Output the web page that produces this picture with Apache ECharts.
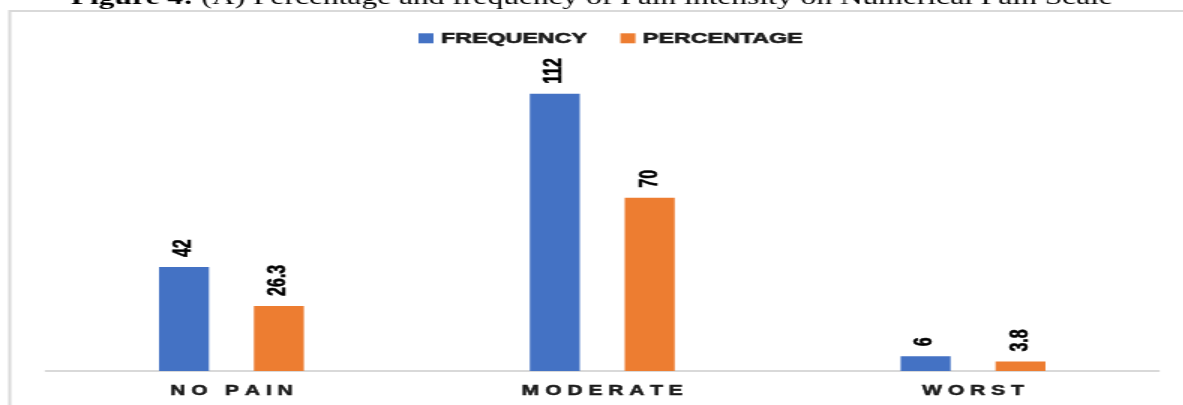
<!DOCTYPE html>
<html>
<head>
<meta charset="utf-8">
<script src="https://cdn.jsdelivr.net/npm/echarts@6/dist/echarts.min.js"></script>
<style>
  html, body { margin: 0; padding: 0; background: #fff; overflow: hidden; }
  #wrap { width: 1183px; height: 405px; overflow: hidden; position: relative; }
  /* the figure is laid out narrow and widened 1.5x, as in the published figure */
  #chart { width: 789px; height: 405px; transform: scaleX(1.5); transform-origin: 0 0; }
</style>
</head>
<body>
<div id="wrap"><div id="chart"></div></div>
<script>
const categories = ['NO PAIN', 'MODERATE', 'WORST'];
const frequency = [42, 112, 6];
const percentage = [26.3, 70, 3.8];
const seriesNames = ['FREQUENCY', 'PERCENTAGE'];
const figureCaption = 'Figure 4:';
const figureTitle = ' (A) Percentage and frequency of Pain intensity on Numerical Pain Scale';

const chart = echarts.init(document.getElementById('chart'), null, { renderer: 'canvas' });

const valueLabel = {
  show: true,
  position: 'top',
  distance: 10,
  rotate: 90,
  align: 'left',
  verticalAlign: 'middle',
  color: '#000',
  fontFamily: 'Liberation Sans',
  fontWeight: 'bold',
  fontSize: 16,
  textBorderColor: '#000',
  textBorderWidth: 0.5
};

chart.setOption({
  backgroundColor: '#fff',
  animation: false,
  title: {
    text: '{b|' + figureCaption + '}{r|' + figureTitle + '}',
    left: 'center',
    top: -17,
    textStyle: {
      rich: {
        b: { fontFamily: 'Liberation Serif', fontWeight: 'bold', fontSize: 21, color: '#000' },
        r: { fontFamily: 'Liberation Serif', fontWeight: 'normal', fontSize: 21, color: '#000' }
      }
    }
  },
  graphic: [{
    type: 'rect',
    silent: true,
    shape: { x: 6.5, y: 11, width: 900, height: 900 },
    style: { fill: 'none', stroke: '#d9d9d9', lineWidth: 2 }
  }],
  legend: {
    data: seriesNames,
    left: 274,
    top: 25,
    itemWidth: 10,
    itemHeight: 10,
    itemGap: 22,
    icon: 'rect',
    textStyle: {
      fontFamily: 'Liberation Sans',
      fontWeight: 'bold',
      fontSize: 15.5,
      color: '#1a1a1a',
      textBorderColor: '#1a1a1a',
      textBorderWidth: 0.6
    }
  },
  grid: { left: 30.7, right: 16.7, top: 74, bottom: 34 },
  xAxis: {
    type: 'category',
    data: categories,
    axisLine: { show: true, lineStyle: { color: '#d9d9d9', width: 2 } },
    axisTick: { show: false },
    axisLabel: {
      margin: 13,
      fontFamily: 'Liberation Sans',
      fontWeight: 'bold',
      fontSize: 14,
      color: '#1a1a1a',
      textBorderColor: '#1a1a1a',
      textBorderWidth: 0.5,
      formatter: v => v.split('').join(' ')
    }
  },
  yAxis: {
    type: 'value',
    min: 0,
    max: 120,
    show: false,
    splitLine: { show: false }
  },
  series: [
    {
      name: seriesNames[0],
      type: 'bar',
      data: frequency,
      barWidth: 33.3,
      barGap: '90%',
      itemStyle: { color: '#4472C4' },
      label: valueLabel
    },
    {
      name: seriesNames[1],
      type: 'bar',
      data: percentage,
      barWidth: 33.3,
      itemStyle: { color: '#ED7D31' },
      label: valueLabel
    }
  ]
});
</script>
</body>
</html>
